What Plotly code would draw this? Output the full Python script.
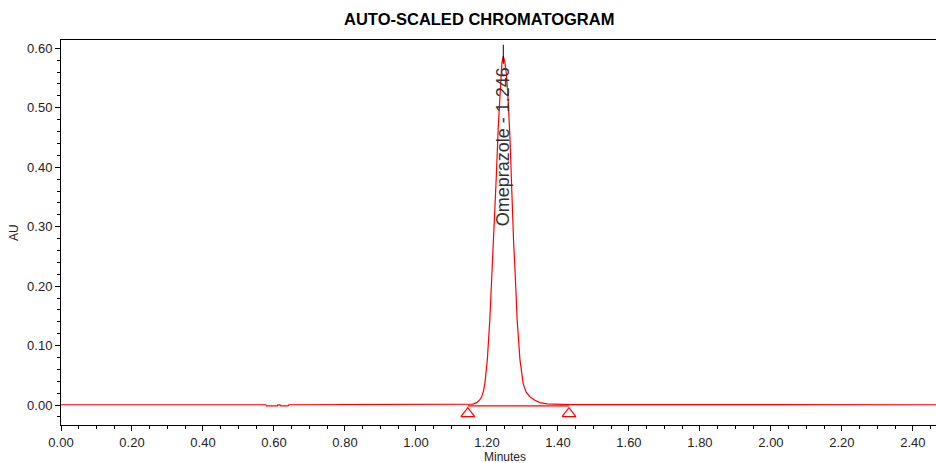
import plotly.graph_objects as go

# ---- data ----
time_min = [0.000, 0.577, 0.579, 0.609, 0.611, 0.614, 0.617, 0.619, 0.640, 0.642,
            1.146, 1.160, 1.171, 1.180, 1.185, 1.190, 1.194, 1.201, 1.208, 1.215,
            1.221, 1.226, 1.232, 1.238, 1.242, 1.246, 1.250, 1.255, 1.260, 1.265,
            1.271, 1.275, 1.279, 1.285, 1.293, 1.302, 1.310, 1.321, 1.335, 1.349,
            1.370, 1.400, 1.431, 2.465]
signal_au = [0.0005, 0.0005, -0.0015, -0.0015, 0.0003, 0.0008, 0.0003, -0.0015, -0.0015, 0.0005,
             0.0005, 0.0015, 0.004, 0.009, 0.014, 0.023, 0.036, 0.076, 0.143, 0.227,
             0.300, 0.380, 0.470, 0.545, 0.575, 0.587, 0.578, 0.555, 0.510, 0.445,
             0.318, 0.275, 0.227, 0.143, 0.076, 0.036, 0.022, 0.014, 0.008, 0.004,
             0.002, 0.0012, 0.0008, 0.0005]

peak_name = "Omeprazole"
peak_rt = 1.246
peak_label_y = 0.434
marker_top = 0.606
marker_bottom = 0.574

baseline_start = [1.146, 1.431]
baseline_level = [-0.0015, -0.0015]
triangle_y = [-0.0145, -0.0145]

x_range = [0.0, 2.465]
y_range = [-0.0336, 0.614]

RED = "#ff0000"
FONT = "Liberation Sans, Arial, sans-serif"

fig = go.Figure()

fig.add_trace(go.Scatter(x=time_min, y=signal_au, mode="lines",
                         line=dict(color=RED, width=1.2), hoverinfo="skip"))
fig.add_trace(go.Scatter(x=baseline_start, y=baseline_level, mode="lines",
                         line=dict(color=RED, width=1.2), hoverinfo="skip"))
fig.add_trace(go.Scatter(x=baseline_start, y=triangle_y, mode="markers",
                         marker=dict(symbol="triangle-up-open", size=12,
                                     color=RED, line=dict(color=RED, width=1.2)),
                         hoverinfo="skip"))
fig.add_trace(go.Scatter(x=[peak_rt, peak_rt], y=[marker_bottom, marker_top], mode="lines",
                         line=dict(color="black", width=1), hoverinfo="skip"))

fig.add_annotation(x=peak_rt, y=peak_label_y, xref="x", yref="y",
                   text=f"{peak_name} - {peak_rt:.3f}", textangle=-90,
                   showarrow=False, xanchor="center", yanchor="middle",
                   font=dict(family=FONT, size=18, color="#333333"))

# axis titles placed as annotations
fig.add_annotation(x=0.507, y=-0.083, xref="paper", yref="paper", text="Minutes",
                   showarrow=False, xanchor="center", yanchor="middle",
                   font=dict(family=FONT, size=12, color="#222222"))
fig.add_annotation(x=-0.0537, y=0.4987, xref="paper", yref="paper", text="AU",
                   textangle=-90, showarrow=False, xanchor="center", yanchor="middle",
                   font=dict(family=FONT, size=12, color="#222222"))

fig.update_layout(
    width=936, height=463,
    margin=dict(l=61, r=0, t=40, b=38, autoexpand=False),
    paper_bgcolor="white", plot_bgcolor="white",
    showlegend=False,
    font=dict(family=FONT, size=13, color="#222222"),
    title=dict(text="<b>AUTO-SCALED CHROMATOGRAM</b>", x=0.512, xanchor="center",
               y=0.958, yanchor="middle", yref="container",
               font=dict(family=FONT, size=16.5, color="black")),
)

fig.update_xaxes(range=x_range, dtick=0.2, tick0=0, tickformat=".2f",
                 showgrid=False, zeroline=False, automargin=False,
                 showline=True, linecolor="black", linewidth=1, mirror=True,
                 ticks="outside", ticklen=5, tickcolor="black",
                 minor=dict(dtick=0.05, ticks="outside", ticklen=3, tickcolor="black"),
                 tickfont=dict(size=13))

fig.update_yaxes(range=y_range, dtick=0.1, tick0=0, tickformat=".2f",
                 showgrid=False, zeroline=False, automargin=False,
                 showline=True, linecolor="black", linewidth=1,
                 ticks="outside", ticklen=5, tickcolor="black",
                 minor=dict(dtick=0.02, ticks="outside", ticklen=3, tickcolor="black"),
                 tickfont=dict(size=13))

fig.write_html("out.html",
               config={"displayModeBar": False},
               post_script="document.body.style.margin='0';document.body.style.padding='0';"
                           "document.body.style.overflow='hidden';")
